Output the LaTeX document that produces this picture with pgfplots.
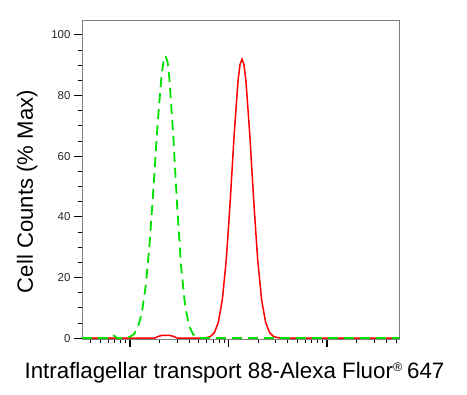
\documentclass[border=0pt]{standalone}
\usepackage{fontspec}
\setmainfont{Liberation Sans}
\usepackage{pgfplots}
\pgfplotsset{compat=1.18}
\definecolor{flgreen}{RGB}{0,225,0}
\definecolor{flred}{RGB}{255,0,0}
\definecolor{frame}{RGB}{128,128,128}
\begin{document}
\begin{tikzpicture}
\begin{axis}[
  at={(0,0)}, anchor=south west,
  width=317bp, height=319bp, scale only axis,
  xmin=2.513, xmax=5.731, ymin=-0.3, ymax=104.9,
  xtick={3,4,5}, xticklabels={},
  minor xtick={2.602,2.699,2.778,2.845,2.903,2.954,3.301,3.477,3.602,3.699,3.778,3.845,3.903,3.954,4.301,4.477,4.602,4.699,4.778,4.845,4.903,4.954,5.301,5.477,5.602,5.699},
  ytick={0,20,40,60,80,100}, minor y tick num=3,
  tick align=outside, xtick pos=bottom, ytick pos=left,
  major tick length=8bp, minor tick length=4bp,
  major tick style={line width=1.1pt, black},
  minor tick style={line width=0.7pt, black},
  axis line style={frame, line width=0.8pt},
  /pgf/number format/assume math mode=true,
  yticklabel style={font=\fontsize{11.5}{13}\selectfont, text=black!85},
  xlabel={Intraflagellar transport 88-Alexa Fluor\raisebox{6.5bp}{\fontsize{12.5}{13}\selectfont ®}\hspace{0.22em}647},
  xlabel style={font=\fontsize{22.4}{26}\selectfont, at={(axis description cs:0.481,-0.123)}, anchor=base, inner sep=0pt},
  ylabel={Cell Counts (\% Max)},
  ylabel style={font=\fontsize{22.2}{26}\selectfont, at={(axis description cs:-0.1546,0.462)}, anchor=base, inner sep=0pt},
  clip=false,
]
\addplot[flred, line width=1.5bp] coordinates {
(2.513,0) (3.25,0) (3.29,0.6) (3.33,0.9) (3.40,0.9) (3.44,0.6) (3.48,0) (3.74,0)
(3.777,0.14) (3.817,0.55) (3.857,1.8) (3.897,5.2) (3.937,12.5) (3.977,25.6) (4.017,44.8)
(4.057,66.8) (4.097,84.9) (4.117,90.2) (4.137,92) (4.157,90.2) (4.177,84.9) (4.217,66.8)
(4.257,44.8) (4.297,25.6) (4.337,12.5) (4.377,5.2) (4.417,1.8) (4.457,0.55) (4.497,0.14)
(4.54,0) (5.731,0)
};
\addplot[flgreen, line width=1.8bp, dash pattern=on 10bp off 6bp] coordinates {
(2.513,0) (2.78,0) (2.81,0.8) (2.84,0.8) (2.87,0) (2.92,0) (2.96,0.12) (3.00,0.41)
(3.04,1.28) (3.08,3.48) (3.12,8.27) (3.16,17.2) (3.20,31.5) (3.24,50.3) (3.28,70.4)
(3.32,86.5) (3.342,91.5) (3.362,93) (3.382,91.0) (3.40,85.8) (3.44,66.4) (3.48,43.0)
(3.52,23.3) (3.56,10.6) (3.60,4.0) (3.64,1.28) (3.68,0.34) (3.72,0.05) (3.76,0) (5.731,0)
};
\end{axis}
\pgfresetboundingbox
\path[use as bounding box] (-82bp,-56bp) rectangle (385bp,339bp);
\end{tikzpicture}
\end{document}
